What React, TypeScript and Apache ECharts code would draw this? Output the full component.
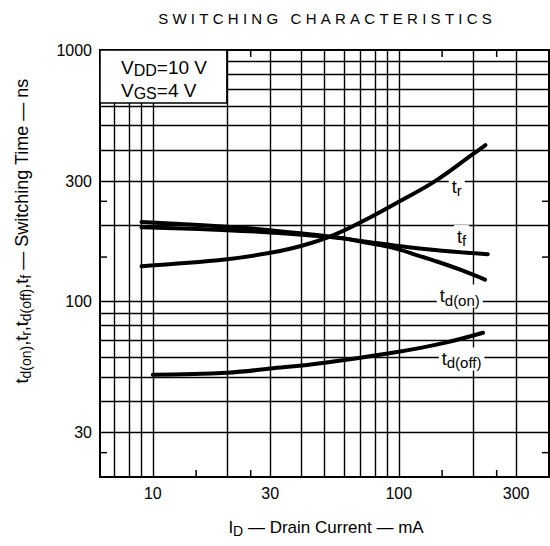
import React, { useEffect, useRef } from 'react';
import * as echarts from 'echarts';

// ---- data (I_D in mA, time in ns) ----
const trData: [number, number][] = [[9, 138], [20, 147], [30, 156], [40, 166], [54, 183], [74, 212], [100, 249], [140, 300], [200, 385], [225, 418]];
const tfData: [number, number][] = [[9, 197], [20, 192], [30, 188], [50, 181], [70, 174], [100, 166], [150, 159], [230, 154]];
const tdOnData: [number, number][] = [[9, 207], [20, 198], [30, 192], [50, 182], [60, 178], [70, 173], [85, 167], [100, 161], [120, 152], [140, 145], [180, 133], [224, 122]];
const tdOffData: [number, number][] = [[10, 51], [20, 52], [30, 54], [50, 57], [100, 63], [150, 68], [220, 75]];

const xGridValues = [7, 8, 9, 10, 20, 30, 40, 50, 60, 70, 80, 90, 100, 200, 300];
const yGridValues = [30, 40, 50, 60, 70, 80, 90, 100, 200, 300, 400, 500, 600, 700, 800, 900];
const xTickLabels = [10, 30, 100, 300];
const yTickLabels = [30, 100, 300, 1000];
const xShortTicks = [15, 25, 150, 250];
const yShortTicks = [25, 150, 250];

const curveLabels = [
  { anchor: [172, 286], text: 't{sub|r}' },
  { anchor: [180, 181], text: 't{sub|f}' },
  { anchor: [177, 105], text: 't{sub|d(on)}' },
  { anchor: [180, 59], text: 't{sub|d(off)}' },
];

const FONT = '"Liberation Sans", Arial, Helvetica, sans-serif';
const spaced = (s: string) => s.split('').join('\u2009\u200A');

const subRich = (size: number, pad: number) => ({
  sub: { fontSize: size, fontFamily: FONT, color: '#000', fill: '#000', padding: [pad, 0, 0, 0] },
});

function curveSeries(name: string, data: [number, number][]) {
  return {
    name,
    type: 'line',
    data,
    smooth: 0.4,
    showSymbol: false,
    symbol: 'none',
    z: 3,
    lineStyle: { color: '#000', width: 4, cap: 'round' },
  };
}

const X_MIN = 6.1;
const X_MAX = 408;
const Y_MIN = 20;
const Y_MAX = 1000;
const G_LEFT = 100;
const G_TOP = 50;
const G_W = 449;
const G_H = 427;

export default function App() {
  const ref = useRef<HTMLDivElement>(null);
  useEffect(() => {
    if (!ref.current) return;
    const chart = echarts.init(ref.current, undefined, { renderer: 'svg' });
    const option: any = {
      animation: false,
      backgroundColor: '#fff',
      grid: {
        show: true,
        left: G_LEFT,
        top: G_TOP,
        width: G_W,
        height: G_H,
        borderColor: '#000',
        borderWidth: 2,
        backgroundColor: 'transparent',
        z: 4,
      },
      xAxis: {
        type: 'log',
        logBase: 10,
        min: X_MIN,
        max: X_MAX,
        position: 'bottom',
        axisLine: { show: false },
        splitLine: { show: false },
        axisTick: { show: false },
        axisLabel: {
          show: true,
          customValues: xTickLabels,
          formatter: (v: number) => String(Math.round(v)),
          color: '#000',
          fontSize: 16,
          fontFamily: FONT,
          margin: 8,
        },
      },
      yAxis: {
        type: 'log',
        logBase: 10,
        min: Y_MIN,
        max: Y_MAX,
        position: 'left',
        axisLine: { show: false },
        splitLine: { show: false },
        axisTick: { show: false },
        axisLabel: {
          show: true,
          customValues: yTickLabels,
          formatter: (v: number) => String(Math.round(v)),
          color: '#000',
          fontSize: 16,
          fontFamily: FONT,
          margin: 8,
        },
      },
      series: [
        {
          name: 'grid',
          type: 'line',
          data: [],
          z: 1,
          silent: true,
          markLine: {
            silent: true,
            symbol: ['none', 'none'],
            label: { show: false },
            lineStyle: { color: '#000', width: 1.4, type: 'solid' },
            emphasis: { disabled: true },
            data: [
              ...xGridValues.map((v) => ({ xAxis: v })),
              ...yGridValues.map((v) => ({ yAxis: v })),
            ],
          },
        },
        curveSeries('tr', trData),
        curveSeries('tf', tfData),
        curveSeries('td(on)', tdOnData),
        curveSeries('td(off)', tdOffData),
      ],
    };
    chart.setOption(option);

    const px = (v: number) => Number(chart.convertToPixel({ xAxisIndex: 0 }, v));
    const py = (v: number) => Number(chart.convertToPixel({ yAxisIndex: 0 }, v));
    const tickLen = 7;
    const shortTicks: any[] = [];
    const addTick = (x1: number, y1: number, x2: number, y2: number) => {
      shortTicks.push({
        type: 'line',
        z: 15,
        shape: { x1, y1, x2, y2 },
        style: { stroke: '#000', lineWidth: 1.5 },
      });
    };
    const bottom = G_TOP + G_H;
    const right = G_LEFT + G_W;
    xShortTicks.forEach((v) => {
      const x = px(v);
      addTick(x, bottom, x, bottom - tickLen);
      addTick(x, G_TOP, x, G_TOP + tickLen);
    });
    yShortTicks.forEach((v) => {
      const y = py(v);
      addTick(G_LEFT, y, G_LEFT + tickLen, y);
      addTick(right, y, right - tickLen, y);
    });

    const labels = curveLabels.map((l) => ({
      type: 'text',
      z: 22,
      x: px(l.anchor[0]),
      y: py(l.anchor[1]),
      style: {
        text: l.text,
        fill: '#000',
        fontSize: 18,
        fontFamily: FONT,
        align: 'center',
        verticalAlign: 'middle',
        backgroundColor: '#fff',
        padding: [0, 3, 0, 3],
        rich: subRich(15, 8),
      },
    }));

    const x20 = px(20);
    chart.setOption({
      graphic: [
        ...shortTicks,
        {
          type: 'rect',
          z: 20,
          shape: { x: G_LEFT, y: G_TOP, width: x20 - G_LEFT, height: 53 },
          style: { fill: '#fff', stroke: '#000', lineWidth: 1.5 },
        },
        {
          type: 'text',
          z: 21,
          x: 121,
          y: 67,
          style: {
            text: 'V{sub|DD}=10 V',
            fill: '#000',
            fontSize: 19,
            fontFamily: FONT,
            verticalAlign: 'middle',
            rich: subRich(16, 7),
          },
        },
        {
          type: 'text',
          z: 21,
          x: 121,
          y: 90,
          style: {
            text: 'V{sub|GS}=4 V',
            fill: '#000',
            fontSize: 19,
            fontFamily: FONT,
            verticalAlign: 'middle',
            rich: subRich(16, 7),
          },
        },
        {
          type: 'text',
          z: 21,
          x: 325,
          y: 18,
          style: {
            text: spaced('SWITCHING') + '   ' + spaced('CHARACTERISTICS'),
            fill: '#000',
            fontSize: 15,
            fontFamily: FONT,
            align: 'center',
            verticalAlign: 'middle',
          },
        },
        {
          type: 'text',
          z: 21,
          x: 326,
          y: 527,
          style: {
            text: 'I{sub|D} — Drain Current — mA',
            fill: '#000',
            fontSize: 17,
            fontFamily: FONT,
            align: 'center',
            verticalAlign: 'middle',
            rich: subRich(14, 7),
          },
        },
        {
          type: 'text',
          z: 21,
          x: 22,
          y: 231,
          rotation: Math.PI / 2,
          style: {
            text: 't{sub|d(on)},t{sub|r},t{sub|d(off)},t{sub|f} — Switching Time — ns',
            fill: '#000',
            fontSize: 18,
            fontFamily: FONT,
            align: 'center',
            verticalAlign: 'middle',
            rich: subRich(14, 7),
          },
        },
        ...labels,
      ],
    });
    return () => chart.dispose();
  }, []);
  return <div ref={ref} style={{ position: 'absolute', left: 0, top: 0, width: 550, height: 546 }} />;
}
